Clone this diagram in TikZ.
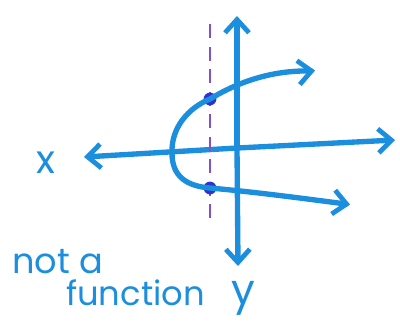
\documentclass[tikz,border=0pt]{standalone}
\usepackage{fontspec}
\setmainfont{Poppins}
\usepackage{tikz}
\usetikzlibrary{arrows.meta,positioning}
\definecolor{penblue}{RGB}{28,142,222}
\definecolor{penpurple}{RGB}{130,80,205}
\definecolor{dotblue}{RGB}{48,50,205}

\begin{document}
\begin{tikzpicture}[x=0.025cm,y=-0.025cm,
  axis/.style={draw=penblue,line width=3.8pt,line cap=round,
               -{Straight Barb[length=3.3mm,width=6mm,line width=3.4pt]}},
  curve/.style={draw=penblue,line width=3.8pt,line cap=round},
  vline/.style={draw=penpurple,line width=1.7pt,dash pattern=on 10pt off 6pt},
  hit/.style={circle,fill=dotblue,inner sep=0pt,minimum size=3.2mm},
  lbl/.style={text=penblue,inner sep=0pt}]
\useasboundingbox (0,0) rectangle (400,325);
% axes
\coordinate (o) at (237,148);
\coordinate (xl) at (84,157);
\coordinate (xr) at (395,140);
\coordinate (yt) at (237,16);
\coordinate (yb) at (238,266);
\draw[axis] (o) -- (xl);
\draw[axis] (o) -- (xr);
\draw[axis] (o) -- (yt);
\draw[axis] (o) -- (yb);
% vertical line test
\coordinate (vt) at (210,24);
\coordinate (vb) at (210,224);
\draw[vline] (vt) -- (vb);
% sideways parabola
\coordinate (vx) at (172,153);
\node[hit] (p1) at (210,99) {};
\node[hit] (p2) at (210,188) {};
\coordinate (ue) at (311,71);
\coordinate (le) at (346,204);
\draw[curve] (vx) .. controls (171,128) and (188,108) .. (p1.center)
  .. controls (238,82) and (272,70) .. (ue);
\draw[curve] (vx) .. controls (172,176) and (186,186) .. (p2.center)
  .. controls (255,192) and (300,198) .. (le);
\draw[axis] (ue) -- ++(4,-0.5);
\draw[axis] (le) -- ++(4,0.6);
% labels
\node[lbl,font=\fontsize{28}{30}\selectfont] (xlab) at (46,163) {x};
\node[lbl,font=\fontsize{30}{32}\selectfont] (ylab) at (243,298) {y};
\node[lbl,font=\fontsize{25}{27}\selectfont,anchor=base west] (nota) at (12,273) {not a};
\node[lbl,font=\fontsize{24}{26}\selectfont,anchor=base west] (func) at (66,305) {function};
\end{tikzpicture}
\end{document}
